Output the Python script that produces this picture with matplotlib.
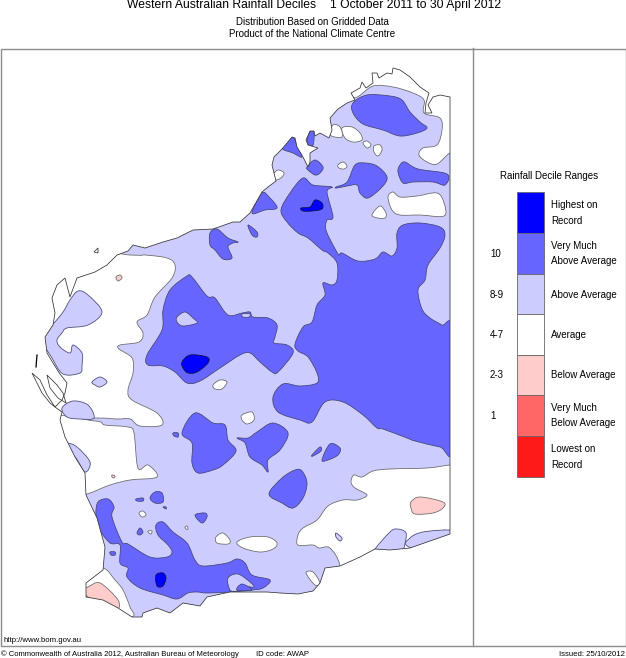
import matplotlib
matplotlib.use('Agg')
import matplotlib.pyplot as plt
import numpy as np
from matplotlib.patches import Polygon, Rectangle, PathPatch
from matplotlib.path import Path

# map shapes (x, y in image pixels)
state = [(450,97),(450,534),(430,541),(410,548),(390,550),(375,549),(360,557),(340,566),(325,568),(320,583),(313,591),
         (298,594),(280,593),(267,592),(230,592),(207,597),(200,606),(183,603),(170,613),(157,608),(143,613),(142,617),
         (132,617),(118,608),(103,600),(86,597),(86,583),(103,570),(105,547),(97,518),(86,495),(85,473),(75,457),(65,437),
         (60,420),(62,412),(55,407),(62,400),(65,393),(67,383),(60,374),(53,363),(47,353),(45,337),(53,325),(55,313),
         (52,298),(57,285),(65,278),(70,297),(77,278),(95,272),(107,265),(117,255),(128,251),(133,245),(145,248),(163,242),
         (177,238),(193,230),(213,229),(233,222),(240,222),(250,213),(262,192),(268,187),(276,181),(272,165),(274,157),
         (282,149),(292,137),(295,138),(297,147),(303,157),(308,167),(310,162),(310,153),(318,148),(308,145),(306,140),
         (310,131),(314,131),(315,136),(320,133),(329,138),(332,130),(330,118),(338,109),(347,103),(355,100),(351,93),
         (360,88),(362,82),(366,88),(373,83),(372,73),(377,73),(379,78),(387,73),(392,74),(393,68),(400,70),(410,77),
         (420,87),(429,93),(426,103),(425,113),(432,113),(428,105),(433,97),(440,95),(450,97)]
islands = [[(94,252),(98,248),(98,253)],
           [(32,373),(37,383),(42,393),(50,403),(55,407),(47,395),(40,380)],
           [(47,375),(52,380),(57,385),(63,393),(66,403),(58,398),(50,388)]]
dirk_hartog = [(37,355),(36,367)]

white_areas = [
    [(353,97),(373,86),(393,87),(413,93),(424,100),(424,113),(440,118),(442,130),(437,145),(423,148),(419,155),(427,162),
     (437,164),(450,153),(460,153),(460,60),(350,60)],
    [(130,255),(145,255),(167,258),(175,265),(172,278),(155,297),(147,315),(137,322),(143,333),(139,342),(120,345),
     (119,349),(132,358),(133,373),(128,390),(132,400),(157,413),(162,425),(140,426),(130,419),(117,419),(97,418),(40,419),
     (20,400),(20,250)],
    [(40,421),(95,421),(105,425),(128,427),(134,433),(138,468),(148,465),(157,477),(130,480),(110,485),(87,494),(60,500)],
    [(103,568),(115,580),(123,590),(130,607),(132,617),(100,620),(80,600),(80,570)],
    [(450,465),(427,468),(390,469),(373,471),(362,477),(354,475),(351,482),(355,488),(367,495),(357,500),(343,500),
     (328,506),(317,520),(303,528),(298,535),(298,545),(313,545),(319,548),(330,548),(340,566),(340,600),(460,600),(460,465)],
]
white_spots = [
    [(342,128),(352,127),(360,133),(362,140),(353,142),(345,138)],
    [(363,143),(367,141),(371,145),(367,148)],
    [(374,146),(380,145),(382,150),(378,156),(374,152)],
    [(338,165),(343,162),(347,166),(344,169),(339,168)],
    [(273,175),(278,170),(284,173),(281,178),(275,180)],
    [(388,197),(393,192),(400,197),(417,196),(437,193),(444,203),(444,216),(420,215),(400,215),(392,210)],
    [(372,215),(380,206),(386,213),(385,218),(378,218)],
    [(330,135),(333,125),(340,127),(342,137)],
    [(213,385),(220,380),(227,382),(222,389),(215,389)],
    [(242,415),(252,412),(254,420),(247,424),(242,420)],
    [(139,513),(143,511),(146,515),(142,517)],
    [(216,537),(223,533),(230,540),(228,544),(217,543)],
    [(237,542),(250,537),(268,537),(277,543),(273,549),(260,552),(243,548)],
    [(185,527),(187,526),(188,529),(186,529)],
    [(148,531),(152,531),(151,534),(149,533)],
    [(306,573),(313,572),(320,583),(315,585)],
]
light_areas = [
    [(70,300),(78,291),(88,295),(102,312),(88,325),(67,328),(62,333),(57,340),(60,347),(70,353),(73,345),(82,353),(82,365),
     (80,373),(63,374),(52,358),(44,343),(47,328),(53,324),(63,312)],
    [(62,408),(73,401),(88,405),(94,418),(80,419),(67,417)],
    [(60,445),(67,443),(77,447),(90,462),(85,472),(75,457)],
    [(92,382),(100,377),(107,382),(100,387),(95,385)],
    [(375,549),(390,532),(397,529),(406,533),(404,548),(400,560),(370,560)],
    [(409,547),(410,538),(423,532),(450,530),(455,534),(455,560)],
    [(336,533),(342,538),(340,541),(336,537)],
]
pink_areas = [
    [(116,277),(120,275),(122,278),(118,281)],
    [(112,475),(115,476),(114,478),(112,477)],
    [(88,587),(100,583),(118,600),(117,610),(103,608),(88,597),(80,590)],
    [(411,502),(420,497),(443,502),(443,508),(433,513),(415,514),(411,508)],
]
medium_areas = [
    [(353,103),(367,95),(390,96),(402,100),(410,112),(420,122),(427,128),(417,133),(400,136),(383,130),(363,124),(353,113)],
    [(400,165),(405,162),(418,169),(447,174),(445,185),(433,182),(413,182),(403,183),(398,172)],
    [(347,182),(355,165),(365,163),(377,166),(387,177),(382,187),(368,198),(360,193),(357,185),(347,186),(337,188),(336,187)],
    [(307,167),(315,160),(323,167),(320,173),(315,175),(308,170)],
    [(282,148),(292,137),(297,145),(302,157),(293,153)],
    [(307,143),(310,131),(314,131),(313,145)],
    [(252,213),(262,193),(270,198),(277,208),(265,210)],
    [(248,225),(257,232),(257,237),(252,235)],
    [(210,233),(217,229),(228,238),(238,242),(233,243),(228,247),(232,258),(223,259),(215,250),(210,245)],
    # northern lobe and eastern block
    [(303,178),(313,185),(332,187),(327,192),(333,217),(327,220),(326,230),(333,245),(339,255),(342,253),(358,261),(375,259),
     (383,252),(392,256),(397,248),(397,233),(403,225),(420,223),(440,227),(445,235),(440,248),(428,265),(425,280),(418,290),
     (422,309),(430,318),(442,325),(452,331),(452,448),(440,447),(415,441),(407,438),(383,429),(377,428),(363,415),(343,402),
     (325,402),(312,422),(300,420),(278,412),(273,397),(283,384),(300,386),(317,383),(317,373),(308,357),(298,351),(295,344),
     (303,327),(312,322),(317,305),(325,295),(323,283),(332,285),(337,280),(337,263),(328,253),(322,250),(308,238),(298,233),
     (287,222),(281,210),(290,193)],
    [(187,276),(192,277),(207,296),(215,298),(228,315),(242,313),(250,312),(253,317),(268,318),(277,325),(275,337),(274,343),
     (287,345),(293,353),(278,372),(272,372),(260,362),(250,353),(240,355),(220,368),(200,381),(187,383),(175,372),(163,366),
     (148,365),(147,355),(162,330),(163,310),(170,290)],
    [(182,433),(195,413),(213,423),(225,425),(228,440),(236,451),(223,465),(213,470),(198,473),(192,463),(192,443)],
    [(237,438),(248,438),(257,432),(273,423),(288,433),(280,450),(268,460),(268,472),(262,465),(250,457),(245,443)],
    [(269,494),(282,478),(295,470),(302,471),(307,483),(303,498),(293,508),(282,503)],
    [(150,498),(155,492),(162,493),(163,502),(155,503)],
    [(195,515),(205,513),(207,517),(202,523)],
    [(137,533),(140,528),(143,532),(140,535)],
    [(173,433),(178,433),(178,437),(174,436)],
    [(136,499),(143,498),(143,501),(137,501)],
    [(110,552),(115,552),(115,555),(111,555)],
    [(163,507),(166,507),(166,509)],
    [(322,460),(330,444),(340,448),(338,455),(328,460)],
    [(312,455),(320,447),(321,451),(313,456)],
    # south west arm
    [(96,515),(98,502),(108,499),(114,507),(112,517),(122,542),(128,544),(150,557),(167,557),(172,552),(168,545),(158,535),
     (156,525),(163,522),(173,532),(187,543),(195,560),(203,566),(227,563),(237,559),(245,563),(252,575),(270,580),(263,588),
     (252,590),(230,592),(207,593),(197,592),(188,593),(177,599),(163,595),(140,588),(127,577),(128,568),(120,563),(120,545),
     (110,543),(100,530)],
]
light_holes = [
    [(177,317),(185,312),(193,318),(197,323),(183,326),(177,322)],
    [(242,314),(250,314),(249,317),(243,317)],
    [(228,578),(238,574),(250,582),(254,587),(247,587),(237,591),(230,590)],
]
medium_in_hole = [[(237,590),(242,584),(252,590)]]
dark_areas = [
    [(301,208),(310,207),(315,200),(322,203),(322,209),(312,211),(303,211)],
    [(182,362),(190,355),(207,357),(208,363),(197,372),(188,373),(183,368)],
    [(156,575),(163,573),(166,578),(163,586),(157,586)],
]

# legend
legend_colors = ['#0000ff', '#6666ff', '#ccccff', '#ffffff', '#ffcccc', '#ff6666', '#ff1a1a']
legend_edges = [192, 233, 274, 314, 355, 395, 436, 477]
legend_labels = [['Highest on', 'Record'], ['Very Much', 'Above Average'], ['Above Average'], ['Average'],
                 ['Below Average'], ['Very Much', 'Below Average'], ['Lowest on', 'Record']]
decile_labels = ['', '10', '8-9', '4-7', '2-3', '1', '']

plt.rcParams['font.family'] = ['Liberation Sans', 'DejaVu Sans']

fig = plt.figure(figsize=(6.26, 6.58), dpi=100)
ax = fig.add_axes([0, 0, 1, 1])
ax.set_xlim(0, 626)
ax.set_ylim(658, 0)
ax.axis('off')

# frame
ax.add_patch(Rectangle((0.5, 48.5), 625, 597, fc='none', ec='#8c8c8c', lw=1))
ax.plot([472.5, 472.5], [48, 646], color='#8c8c8c', lw=1)

outline = Polygon(state, closed=True, fc='#ccccff', ec='none', zorder=1)
ax.add_patch(outline)


def smooth_path(pts):
    # closed curve through the read points, contours are round in the original
    p = np.array(pts, dtype=float)
    n = len(p)
    verts = [p[0]]
    codes = [Path.MOVETO]
    for i in range(n):
        a, b, c, d = p[i - 1], p[i], p[(i + 1) % n], p[(i + 2) % n]
        verts += [b + (c - a) / 6, c - (d - b) / 6, c]
        codes += [Path.CURVE4] * 3
    return Path(verts, codes)


def draw_areas(shapes, colour, z, edge='#44446e'):
    for pts in shapes:
        p = PathPatch(smooth_path(pts), fc=colour, ec=edge, lw=0.55, zorder=z)
        ax.add_patch(p)
        p.set_clip_path(outline)


draw_areas(white_areas, '#ffffff', 2, edge='#666666')
draw_areas(light_areas, '#ccccff', 3)
draw_areas(pink_areas, '#ffcccc', 3, edge='#666666')
draw_areas(medium_areas, '#6666ff', 4)
draw_areas(light_holes, '#ccccff', 5)
draw_areas(medium_in_hole, '#6666ff', 6)
draw_areas(white_spots, '#ffffff', 5, edge='#666666')
draw_areas(dark_areas, '#0000ff', 6, edge='#101040')

# coastline on top
ax.add_patch(Polygon(state, closed=True, fc='none', ec='#333333', lw=0.55, zorder=8))
for pts in islands:
    ax.add_patch(Polygon(pts, closed=True, fc='none', ec='#333333', lw=0.55, zorder=8))
ax.plot(*zip(*dirk_hartog), color='black', lw=0.9, zorder=8)

# titles
ax.text(127, 5, 'Western Australian Rainfall Deciles', fontsize=8.7, va='center', ha='left')
ax.text(330, 5, '1 October 2011 to 30 April 2012', fontsize=8.7, va='center', ha='left')
ax.text(312.5, 22, 'Distribution Based on Gridded Data', fontsize=7, va='center', ha='center')
ax.text(312.5, 34, 'Product of the National Climate Centre', fontsize=7, va='center', ha='center')

# legend panel
ax.text(549, 176, 'Rainfall Decile Ranges', fontsize=7, va='center', ha='center')
for i, colour in enumerate(legend_colors):
    top, bottom = legend_edges[i], legend_edges[i + 1]
    ax.add_patch(Rectangle((517, top), 27, bottom - top, fc=colour, ec='#666666', lw=0.6))
    mid = (top + bottom) / 2
    lines = legend_labels[i]
    if len(lines) == 2:
        ax.text(551, mid - 7.5, lines[0], fontsize=7, va='center')
        ax.text(551, mid + 8, lines[1], fontsize=7, va='center')
    else:
        ax.text(551, mid + 0.5, lines[0], fontsize=7, va='center')
    ax.text(490, mid + 0.5, decile_labels[i], fontsize=7, va='center')

# footer
ax.text(4, 640, 'http://www.bom.gov.au', fontsize=5.6, va='center')
ax.text(1, 654, '© Commonwealth of Australia 2012, Australian Bureau of Meteorology', fontsize=5.5, va='center')
ax.text(256, 654, 'ID code: AWAP', fontsize=5.6, va='center')
ax.text(625, 654, 'Issued: 25/10/2012', fontsize=5.6, va='center', ha='right')

fig.savefig('out.png', dpi=100)
